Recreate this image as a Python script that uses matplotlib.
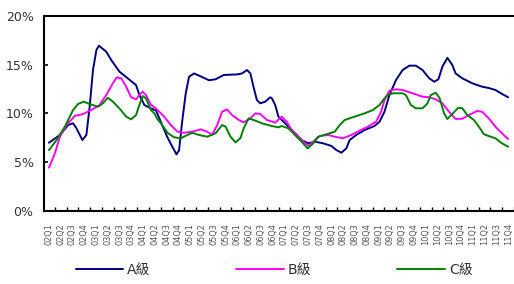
import matplotlib
matplotlib.use("Agg")
import matplotlib.pyplot as plt
from matplotlib.ticker import FixedLocator, FuncFormatter

# ---- data (x in quarter index, 0 = 02Q1) ----------------------------------
QUARTERS = ["%02dQ%d" % (y, q) for y in range(2, 12) for q in range(1, 5)]

A_X = [0.00, 0.93, 1.63, 2.05, 2.34, 2.84, 3.18, 3.46, 3.74, 4.03, 4.24, 4.87,
       5.29, 5.99, 6.69, 7.40, 7.68, 8.10, 8.67, 9.09, 9.62, 10.04, 10.38, 10.83,
       11.05, 11.33, 11.62, 11.90, 12.32, 12.89, 13.59, 14.15, 14.85, 15.97,
       16.40, 16.82, 17.11, 17.38, 17.66, 17.95, 18.37, 18.79, 18.93, 19.22,
       19.49, 20.06, 20.76, 21.46, 22.03, 22.59, 23.29, 23.99, 24.41, 24.84,
       25.26, 25.54, 26.10, 26.81, 27.65, 28.08, 28.50, 28.92, 29.48, 30.04,
       30.61, 31.16, 31.73, 32.30, 32.72, 33.08, 33.42, 33.84, 34.26, 34.54,
       35.11, 35.95, 36.79, 37.36, 37.92, 38.48, 39.00]
A_Y = [6.98, 7.78, 8.80, 8.98, 8.46, 7.26, 7.78, 10.7, 14.45, 16.5, 16.95, 16.33,
       15.48, 14.28, 13.6, 12.9, 11.9, 10.86, 10.5, 10.3, 8.8, 7.6, 6.8, 5.79,
       6.2, 9.3, 12.06, 13.76, 14.1, 13.8, 13.4, 13.5, 13.94, 14.0,
       14.1, 14.45, 14.1, 12.7, 11.37, 11.03, 11.2, 11.65, 11.55, 10.86,
       9.66, 8.98, 8.12, 7.26, 6.92, 7.09, 6.92, 6.65, 6.23, 5.96,
       6.4, 7.26, 7.78, 8.29, 8.7, 9.14, 10.17, 11.88, 13.43, 14.45,
       14.9, 14.9, 14.45, 13.6, 13.25, 13.5, 14.8, 15.7, 14.97, 14.1,
       13.6, 13.09, 12.74, 12.6, 12.4, 12.0, 11.65]

B_X = [0.00, 0.51, 0.93, 1.49, 2.19, 2.89, 3.60, 4.30, 4.87, 5.43, 5.76, 6.14,
       6.56, 6.98, 7.40, 7.68, 7.96, 8.24, 8.67, 9.09, 9.79, 10.35, 10.91, 11.48,
       12.18, 12.89, 13.44, 13.86, 14.29, 14.71, 15.13, 15.55, 16.12, 16.54,
       17.11, 17.53, 17.95, 18.51, 19.22, 19.77, 20.19, 20.62, 21.18, 21.75,
       22.08, 22.59, 23.01, 23.71, 24.28, 24.98, 25.68, 26.52, 27.09, 27.79,
       28.21, 28.50, 28.92, 29.48, 30.04, 30.89, 31.73, 32.30, 32.85, 33.42,
       33.98, 34.54, 35.11, 35.67, 36.37, 36.79, 37.36, 37.92, 38.48, 39.00]
B_Y = [4.42, 5.9, 7.6, 8.8, 9.73, 9.93, 10.34, 10.86, 11.88, 13.09, 13.7, 13.6,
       12.74, 11.65, 11.44, 11.88, 12.22, 11.88, 10.86, 10.5, 9.66, 8.8, 8.12, 8.0,
       8.12, 8.36, 8.12, 7.78, 8.8, 10.17, 10.4, 9.83, 9.32, 9.08,
       9.49, 10.0, 9.93, 9.32, 9.04, 9.66, 9.14, 8.29, 7.6, 6.92,
       6.65, 7.26, 7.67, 7.78, 7.6, 7.44, 7.78, 8.29, 8.63, 9.14,
       10.17, 11.37, 12.33, 12.47, 12.4, 12.06, 11.71, 11.65, 11.44, 11.03,
       10.17, 9.42, 9.45, 9.83, 10.24, 10.17, 9.49, 8.63, 7.95, 7.37]

C_X = [0.00, 0.65, 1.35, 2.05, 2.47, 2.95, 3.46, 4.16, 4.58, 5.00, 5.43, 5.99,
       6.56, 6.98, 7.40, 7.68, 7.96, 8.24, 8.67, 8.95, 9.22, 9.51, 10.07, 10.63,
       11.20, 11.76, 12.18, 12.74, 13.44, 14.15, 14.71, 15.00, 15.42, 15.84,
       16.26, 16.54, 16.96, 17.38, 18.08, 18.93, 19.49, 19.77, 20.34, 20.90,
       21.46, 21.97, 22.45, 22.87, 23.57, 24.28, 24.70, 25.12, 25.97, 26.81,
       27.51, 28.08, 28.50, 28.78, 29.20, 30.04, 30.32, 30.74, 31.16, 31.73,
       32.15, 32.43, 32.85, 33.19, 33.56, 33.84, 34.26, 34.77, 35.11, 35.53,
       36.09, 36.52, 36.94, 37.36, 37.92, 38.48, 39.00]
C_Y = [6.23, 7.26, 8.63, 10.34, 10.96, 11.2, 10.96, 10.68, 11.03, 11.6, 11.2, 10.5,
       9.66, 9.39, 9.83, 10.86, 11.78, 11.55, 10.34, 10.0, 9.4, 8.98, 8.0, 7.54,
       7.44, 7.78, 8.0, 7.78, 7.6, 7.95, 8.8, 8.63, 7.6, 7.02,
       7.44, 8.46, 9.49, 9.32, 8.98, 8.7, 8.56, 8.7, 8.46, 7.78,
       7.09, 6.4, 6.92, 7.6, 7.85, 8.12, 8.8, 9.32, 9.66, 10.0,
       10.34, 10.86, 11.55, 11.88, 12.06, 12.06, 11.88, 10.86, 10.52, 10.52,
       11.03, 11.88, 12.12, 11.55, 10.0, 9.42, 9.93, 10.58, 10.52, 9.83,
       9.32, 8.63, 7.85, 7.67, 7.44, 6.92, 6.57]

SERIES = [("A級", A_X, A_Y, "#000080"),
          ("B級", B_X, B_Y, "#FF00FF"),
          ("C級", C_X, C_Y, "#008000")]

# ---- style ----------------------------------------------------------------
INK = "#333333"
plt.rcParams.update({
    "font.family": ["DejaVu Sans", "Noto Sans CJK TC"],
    "axes.linewidth": 1.5,
})

fig = plt.figure(figsize=(5.14, 2.84), dpi=100)
# axes runs to the right edge with no right spine, like the source
ax = fig.add_axes([44 / 514, 1 - 210.7 / 284, 470 / 514, (210.7 - 16) / 284])

handles = []
for name, xs, ys, col in SERIES:
    ln, = ax.plot(xs, ys, color=col, lw=1.4, solid_joinstyle="round",
                  solid_capstyle="round", label=name, zorder=3)
    handles.append(ln)

ax.set_xlim(-0.42, 39.5)
ax.set_ylim(0, 20)
ax.set_yticks([0, 5, 10, 15, 20])
ax.yaxis.set_major_formatter(FuncFormatter(lambda v, _: "%d%%" % v))
ax.tick_params(axis="y", direction="in", length=3, width=1.2, pad=7.5,
               labelsize=9, labelcolor=INK)

ax.set_xticks(range(len(QUARTERS)))
ax.set_xticklabels(QUARTERS, rotation=90, fontsize=5.9, color="#555555")
ax.tick_params(axis="x", which="major", length=0, pad=9)
ax.xaxis.set_minor_locator(FixedLocator([i + 0.5 for i in range(len(QUARTERS))]))
ax.tick_params(axis="x", which="minor", direction="in", length=3, width=1.0)

ax.spines["right"].set_visible(False)
for s in ("top", "left", "bottom"):
    ax.spines[s].set_color("black")

fig.legend(handles, [h.get_label() for h in handles], loc="center",
           bbox_to_anchor=(0.533, 0.049), ncol=3, frameon=False, fontsize=10,
           handlelength=3.4, handletextpad=0.3, columnspacing=6.2,
           labelcolor=INK)

fig.savefig("out.png", dpi=100)
